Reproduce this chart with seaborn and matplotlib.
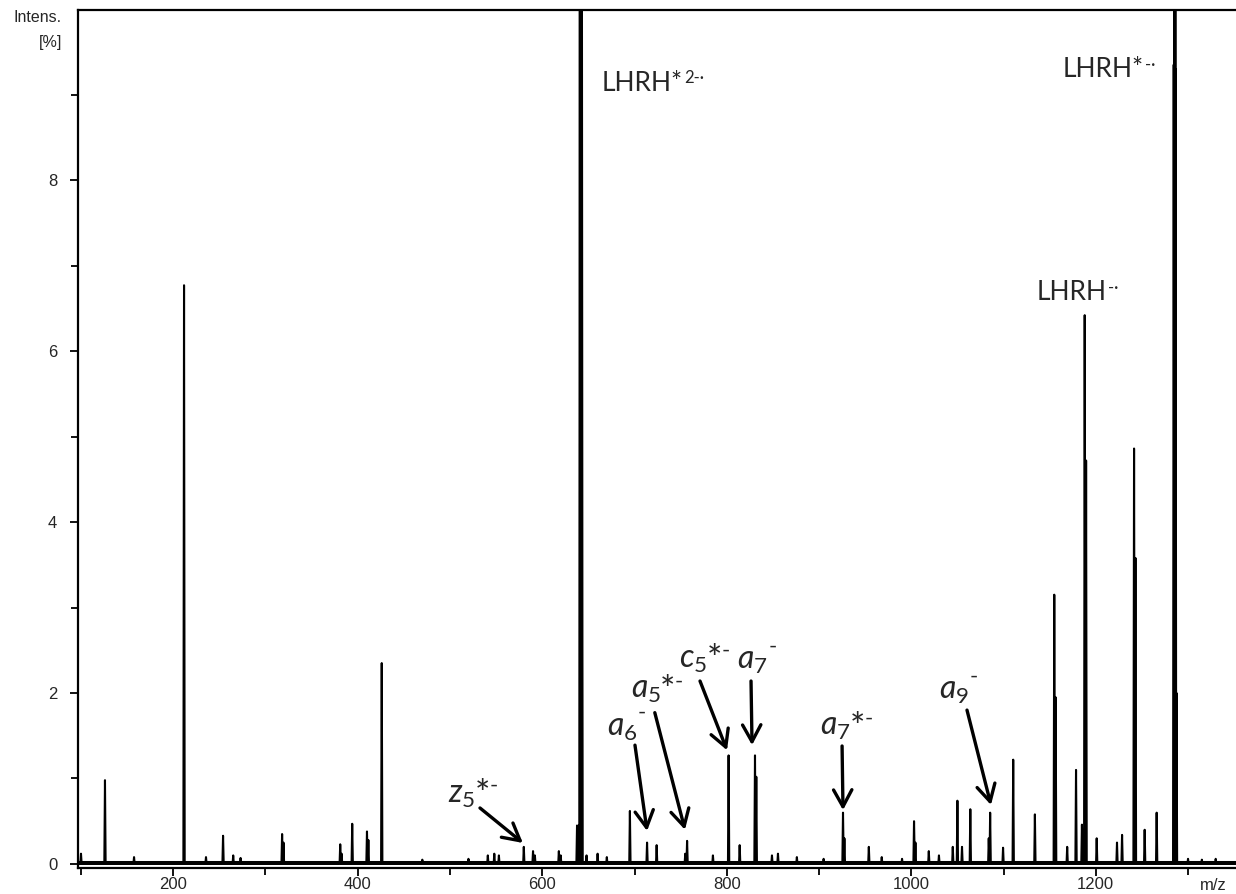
import numpy as np
import pandas as pd
import matplotlib
matplotlib.use('Agg')
import matplotlib.pyplot as plt
from matplotlib.ticker import MultipleLocator
import seaborn as sns

# peaks: m/z and intensity [%]
# (off-scale peaks get a value above the axis limit)
peak_mz = [100, 126, 157.5, 211.7, 235.5, 254, 265, 273, 318, 319.5,
           381, 382.5, 394, 410, 411.5, 426, 470, 520, 541, 548, 553,
           580, 590, 592, 618, 620, 637.7, 640.5, 641, 641.5, 642, 642.5, 643,
           648, 660, 670, 695, 713.6, 724, 755, 757, 785, 802, 814,
           830.6, 832, 849, 855.5, 876, 905, 926, 927.5, 954, 968, 990,
           1003, 1004.5, 1019, 1030, 1045, 1050, 1055, 1064, 1084, 1085.5,
           1099.5, 1110.5, 1134, 1155, 1156.5, 1169, 1178.6, 1185, 1188,
           1189.5, 1201, 1223, 1228.5, 1241.5, 1243, 1253, 1266,
           1284.5, 1285.5, 1286, 1286.5, 1287.5, 1300, 1315, 1330]
peak_int = [0.12, 0.98, 0.08, 6.77, 0.08, 0.33, 0.1, 0.07, 0.35, 0.25,
            0.23, 0.12, 0.47, 0.38, 0.28, 2.35, 0.05, 0.06, 0.1, 0.12, 0.1,
            0.2, 0.15, 0.1, 0.15, 0.1, 0.45, 0.46, 30.0, 24.0, 14.0, 11.0, 10.5,
            0.1, 0.12, 0.08, 0.62, 0.25, 0.22, 0.12, 0.27, 0.1, 1.27, 0.22,
            1.27, 1.02, 0.1, 0.12, 0.08, 0.06, 0.6, 0.3, 0.2, 0.08, 0.06,
            0.5, 0.25, 0.15, 0.1, 0.2, 0.74, 0.2, 0.64, 0.3, 0.6,
            0.19, 1.22, 0.58, 3.15, 1.95, 0.2, 1.1, 0.46, 6.42,
            4.72, 0.3, 0.25, 0.34, 4.86, 3.58, 0.4, 0.6,
            9.35, 40.0, 30.0, 9.3, 2.0, 0.06, 0.05, 0.06]

# fragment labels: ion letter + subscript, charge superscript,
# text anchor and arrow (from -> to) in data units
ion_base = [r'$z_5$', r'$a_6$', r'$a_5$', r'$c_5$', r'$a_7$', r'$a_7$', r'$a_9$']
ion_sup = ['*-', '-', '*-', '*-', '-', '*-', '-']
ion_text_mz = [497.8, 670.0, 696.0, 748.5, 811.5, 901.5, 1030.0]
ion_text_int = [0.81, 1.59, 2.03, 2.39, 2.37, 1.60, 2.02]
arrow_from_mz = [532.5, 700.5, 722.0, 771.0, 826.3, 925.0, 1060.4]
arrow_from_int = [0.655, 1.39, 1.77, 2.14, 2.14, 1.38, 1.80]
arrow_to_mz = [579.0, 713.6, 754.7, 800.3, 827.4, 926.0, 1086.4]
arrow_to_int = [0.246, 0.386, 0.40, 1.33, 1.39, 0.63, 0.69]

# precursor labels
prec_base = ['LHRH*', 'LHRH*', 'LHRH']
prec_sup = ['2-\u00b7', '-\u00b7', '-\u00b7']
prec_mz = [664.8, 1164.5, 1136.3]
prec_int = [9.13, 9.29, 6.68]

sns.set_theme(style='ticks')
plt.rcParams['font.family'] = ['Liberation Sans', 'DejaVu Sans']
plt.rcParams['mathtext.fontset'] = 'custom'
plt.rcParams['mathtext.rm'] = 'Lato'
plt.rcParams['mathtext.it'] = 'Lato:italic'
plt.rcParams['mathtext.bf'] = 'Lato:bold'
label_font = ['Lato', 'DejaVu Sans']

# stick spectrum -> narrow triangular profile
half_w = 0.7
prof_x, prof_y = [96.0], [0.0]
for m, h in sorted(zip(peak_mz, peak_int)):
    prof_x += [m - half_w, m, m + half_w]
    prof_y += [0.0, h, 0.0]
prof_x.append(1352.0)
prof_y.append(0.0)
spec = pd.DataFrame({'mz': prof_x, 'intens': prof_y})

fig = plt.figure(figsize=(12.36, 8.94), dpi=100)
ax = fig.add_axes([0.0631, 0.0291, 0.9369, 0.9597])

sns.lineplot(data=spec, x='mz', y='intens', sort=False, estimator=None,
             color='black', lw=1.5, ax=ax)
ax.axhline(0.025, color='black', lw=2.2, zorder=1)

ax.set_xlim(96.75, 1352)
ax.set_ylim(-0.047, 9.99)
ax.set_xlabel('')
ax.set_ylabel('')

ax.xaxis.set_major_locator(MultipleLocator(200))
ax.xaxis.set_minor_locator(MultipleLocator(100))
ax.yaxis.set_major_locator(MultipleLocator(2))
ax.yaxis.set_minor_locator(MultipleLocator(1))
ax.tick_params(axis='both', which='major', direction='out', length=6,
               width=1.3, labelsize=12, color='black')
ax.tick_params(axis='both', which='minor', direction='out', length=5,
               width=1.3, color='black')
ax.tick_params(axis='y', which='major', pad=9)
ax.tick_params(axis='x', which='major', pad=0.5)

for side in ['left', 'bottom', 'top']:
    ax.spines[side].set_linewidth(1.6)
    ax.spines[side].set_color('black')
ax.spines['right'].set_visible(False)

# fragment annotations
for base, sup, tx, ty, x0, y0, x1, y1 in zip(ion_base, ion_sup, ion_text_mz,
                                              ion_text_int, arrow_from_mz,
                                              arrow_from_int, arrow_to_mz,
                                              arrow_to_int):
    t = ax.text(tx, ty, base, fontsize=23, ha='left', va='center')
    if sup.startswith('*'):
        star = ax.annotate('*', xy=(1, 1), xycoords=t, xytext=(-0.5, -11.5),
                           textcoords='offset points', ha='left', va='center',
                           fontsize=26, family=label_font)
        ax.annotate('-', xy=(1, 0.5), xycoords=star, xytext=(-0.5, 7),
                    textcoords='offset points', ha='left', va='center',
                    fontsize=16, family=label_font)
    else:
        ax.annotate('-', xy=(1, 1), xycoords=t, xytext=(0.5, 0),
                    textcoords='offset points', ha='left', va='center',
                    fontsize=16, family=label_font)
    ax.annotate('', xy=(x1, y1), xytext=(x0, y0),
                arrowprops=dict(arrowstyle='->,head_length=0.55,head_width=0.3',
                                lw=2.4, color='black', mutation_scale=22,
                                shrinkA=0, shrinkB=0))

for base, sup, tx, ty in zip(prec_base, prec_sup, prec_mz, prec_int):
    t = ax.text(tx, ty, base, fontsize=19, ha='left', va='center',
                family=label_font)
    ax.annotate(sup, xy=(1, 1), xycoords=t, xytext=(0.5, 0.5),
                textcoords='offset points', ha='left', va='top',
                fontsize=12, family=label_font)

fig.text(62 / 1236, 1 - 18 / 894, 'Intens.', ha='right', va='center', fontsize=11.5)
fig.text(62 / 1236, 1 - 42 / 894, '[%]', ha='right', va='center', fontsize=11.5)
fig.text(1213 / 1236, 1 - 886 / 894, 'm/z', ha='center', va='center', fontsize=12)

fig.savefig('out.png', dpi=100)
